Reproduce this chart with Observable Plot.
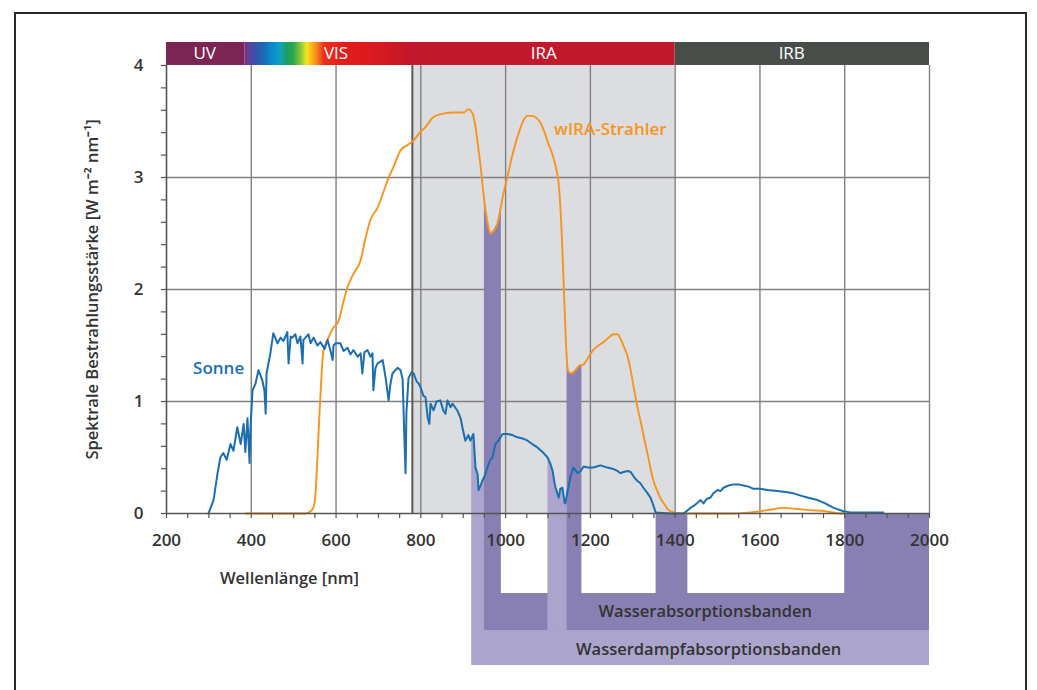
<!DOCTYPE html>
<html><head><meta charset="utf-8">
<script src="https://cdn.jsdelivr.net/npm/d3@7"></script>
<script src="https://cdn.jsdelivr.net/npm/@observablehq/plot@0.6"></script>
<style>
html,body{margin:0;padding:0;background:#fff;width:1037px;height:690px;overflow:hidden;}
#frame{position:absolute;left:14px;top:12px;width:1013px;height:720px;border:2px solid #2a2a2a;box-sizing:border-box;}
#chart{position:absolute;left:0;top:0;}
</style></head><body>
<div id="frame"></div><div id="chart"></div>
<script>
// ---- Data ----
const xTicks = [200, 400, 600, 800, 1000, 1200, 1400, 1600, 1800, 2000];
const yTicks = [0, 1, 2, 3, 4];
const xMinorTicks = d3.range(200, 2001, 50);
const yMinorTicks = d3.range(0, 4.001, 0.2);

const regionNames = ["UV", "VIS", "IRA", "IRB"];
const regionStart = [200, 385, 780, 1400];
const regionEnd   = [385, 780, 1400, 2000];
const regionLabelAt = [290, 600, 1090, 1675];

// Sonne (solar spectrum)
const sunNm  = [299,311,320,327,334,342,351,358,367,375,382,386,391,396,398,403,410,417,426,431,434,436,445,452,462,469,476,485,488,493,497,504,509,516,521,523,528,535,540,547,556,563,573,580,587,592,594,599,610,618,627,634,641,651,658,662,667,674,681,686,688,693,698,710,717,724,728,733,745,752,757,761,764,766,771,778,783,790,795,799,806,811,816,820,823,830,837,846,853,858,863,870,875,886,894,898,905,912,917,924,929,934,936,941,945,950,957,964,969,976,983,993,1004,1016,1028,1040,1052,1063,1075,1087,1099,1106,1111,1115,1118,1122,1125,1129,1134,1139,1141,1146,1148,1153,1160,1170,1177,1184,1193,1207,1224,1240,1252,1264,1271,1278,1288,1295,1304,1311,1318,1325,1335,1342,1346,1354,1389,1420,1436,1448,1460,1467,1474,1483,1490,1500,1507,1514,1526,1538,1550,1561,1573,1585,1601,1618,1641,1665,1679,1696,1714,1736,1754,1774,1797,1813,1861,1891];
const sunVal = [0,0.12,0.35,0.50,0.54,0.48,0.62,0.56,0.77,0.62,0.80,0.55,0.85,0.45,0.75,1.10,1.16,1.28,1.19,1.10,0.89,1.25,1.43,1.61,1.52,1.57,1.54,1.62,1.34,1.58,1.57,1.60,1.52,1.58,1.34,1.55,1.57,1.60,1.52,1.57,1.50,1.53,1.47,1.55,1.45,1.37,1.50,1.52,1.52,1.45,1.48,1.42,1.46,1.40,1.43,1.25,1.44,1.46,1.40,1.43,1.10,1.30,1.34,1.37,1.21,1.01,1.15,1.25,1.30,1.28,1.20,0.70,0.36,0.90,1.21,1.26,1.25,1.18,1.16,1.13,1.05,1.04,0.86,0.80,0.98,0.92,1.00,1.01,0.92,0.89,1.01,0.95,0.98,0.92,0.85,0.77,0.65,0.70,0.65,0.71,0.41,0.35,0.21,0.25,0.29,0.33,0.41,0.48,0.50,0.62,0.65,0.71,0.71,0.70,0.68,0.67,0.65,0.62,0.59,0.55,0.50,0.44,0.38,0.28,0.23,0.18,0.14,0.22,0.23,0.10,0.09,0.20,0.23,0.33,0.41,0.36,0.38,0.42,0.41,0.41,0.43,0.41,0.40,0.38,0.36,0.37,0.38,0.37,0.32,0.29,0.27,0.23,0.18,0.14,0.10,0.01,0,0,0.05,0.08,0.12,0.09,0.13,0.14,0.18,0.21,0.20,0.23,0.25,0.26,0.26,0.25,0.24,0.22,0.22,0.21,0.20,0.19,0.18,0.16,0.14,0.12,0.09,0.05,0.02,0.01,0.01,0.01];

// wIRA-Strahler
const wiraNm  = [386,469,528,540,547,552,556,561,566,570,580,592,606,618,627,641,658,669,681,698,710,721,736,752,769,783,797,811,830,853,877,901,912,922,929,936,941,948,953,960,964,971,981,988,995,1004,1014,1023,1033,1042,1052,1063,1073,1082,1092,1101,1111,1118,1125,1129,1134,1139,1144,1148,1155,1165,1174,1184,1193,1207,1219,1231,1243,1255,1264,1271,1280,1288,1295,1302,1311,1318,1328,1335,1342,1349,1358,1365,1375,1382,1396,1413,1538,1578,1618,1656,1689,1719,1754,1790,1800];
const wiraVal = [0,0,0,0.02,0.06,0.2,0.5,0.9,1.25,1.45,1.55,1.65,1.72,1.90,2.02,2.14,2.26,2.45,2.62,2.73,2.85,2.97,3.10,3.24,3.29,3.33,3.40,3.45,3.54,3.57,3.58,3.58,3.61,3.57,3.45,3.25,3.10,2.85,2.70,2.55,2.50,2.52,2.59,2.72,2.86,3.00,3.17,3.30,3.42,3.51,3.55,3.55,3.53,3.49,3.40,3.30,3.20,3.10,2.95,2.75,2.35,1.85,1.40,1.27,1.25,1.28,1.32,1.33,1.38,1.46,1.50,1.53,1.57,1.60,1.60,1.56,1.48,1.40,1.28,1.13,0.95,0.83,0.65,0.53,0.40,0.29,0.20,0.14,0.08,0.04,0.01,0,0,0.01,0.03,0.05,0.04,0.03,0.02,0,0];

// Absorption bands (nm)
const vaporBandStart = [920, 1100];   // Wasserdampf, under the Sonne curve
const vaporBandEnd   = [950, 1145];
const waterBandStart = [950, 1145, 1355, 1800]; // Wasser
const waterBandEnd   = [990, 1180, 1430, 2000];
const bandLevels = [-0.714, -1.045, -1.357]; // cutout bottom, Wasser row bottom, Wasserdampf row bottom

const labels = {
  y: "Spektrale Bestrahlungsstärke [W m⁻² nm⁻¹]",
  x: "Wellenlänge [nm]",
  sun: "Sonne",
  wira: "wIRA-Strahler",
  water: "Wasserabsorptionsbanden",
  vapor: "Wasserdampfabsorptionsbanden"
};

// ---- Styles ----
const C = {
  blue: "#1b6fb0", orange: "#f7941d", grid: "#808080", axis: "#555",
  ira: "#dcdde0", dark: "#8880b2", light: "#aba5cd", text: "#333",
  uv: "#7c2453", iraBand: "#c1192b", irb: "#484d49"
};
const FW = 600;
const specStopsNm = [385, 393, 408, 428, 452, 470, 484, 500, 518, 532, 545, 558, 572, 620, 700, 780];
const specStopsCol = ["#7a2a72","#6b3d98","#3e4fa6","#1d68b4","#0b8dcf","#12a3c2","#1a9e62","#2ca84a","#8cc63f","#f6e61a","#fbb11a","#f47920","#e8321e","#e31d1c","#d71b22","#c1192b"];
const specColor = d3.scaleLinear().domain(specStopsNm).range(specStopsCol).interpolate(d3.interpolateRgb);

// ---- Derived tables ----
const sun = sunNm.map((x, i) => ({x, y: sunVal[i]}));
const wira = wiraNm.map((x, i) => ({x, y: wiraVal[i]}));
function interp(nm, val, x) {
  for (let i = 0; i < nm.length - 1; i++) {
    if (x >= nm[i] && x <= nm[i + 1]) {
      const t = (x - nm[i]) / (nm[i + 1] - nm[i]);
      return val[i] + t * (val[i + 1] - val[i]);
    }
  }
  return 0;
}
function clipSeries(nm, val, a, b, band) {
  const pts = [{x: a, y: interp(nm, val, a), band}];
  nm.forEach((x, i) => { if (x > a && x < b) pts.push({x, y: val[i], band}); });
  pts.push({x: b, y: interp(nm, val, b), band});
  return pts;
}
const vaporAreas = vaporBandStart.flatMap((a, i) => clipSeries(sunNm, sunVal, a, vaporBandEnd[i], i));
const waterAreas = waterBandStart.slice(0, 2).flatMap((a, i) => clipSeries(wiraNm, wiraVal, a, waterBandEnd[i], i));

const [cutBottom, waterBottom, vaporBottom] = bandLevels;
const blocks = [
  {x1: vaporBandStart[0], x2: 2000, y1: vaporBottom, y2: 0, fill: C.light},
  {x1: waterBandStart[0], x2: 2000, y1: waterBottom, y2: 0, fill: C.dark},
  {x1: vaporBandStart[1], x2: vaporBandEnd[1], y1: waterBottom, y2: 0, fill: C.light},
  ...waterBandEnd.slice(0, 3).map((e, i) => ({x1: e, x2: i === 0 ? vaporBandStart[1] : waterBandStart[i + 1], y1: cutBottom, y2: 0, fill: "#fff"}))
];

const topBands = regionNames.map((n, i) => ({name: n, x1: regionStart[i], x2: regionEnd[i], at: regionLabelAt[i]}));
const topFill = {UV: C.uv, IRA: C.iraBand, IRB: C.irb};
const specSteps = d3.range(regionStart[1], regionEnd[1], 2).map(x => ({x1: x, x2: Math.min(x + 5, regionEnd[1]), fill: specColor(x + 1)}));

const yMax = 4, yBandTop = 4.205;

const chart = Plot.plot({
  width: 1037, height: 690,
  marginLeft: 166, marginRight: 108, marginTop: 42, marginBottom: 25,
  x: {domain: [200, 2000], axis: null},
  y: {domain: [vaporBottom, yBandTop], axis: null},
  style: {fontFamily: "'Open Sans', sans-serif", background: "transparent", overflow: "visible"},
  marks: [
    Plot.rect([topBands[2]], {x1: "x1", x2: "x2", y1: 0, y2: yMax, fill: C.ira}),
    Plot.rect(blocks, {x1: "x1", x2: "x2", y1: "y1", y2: "y2", fill: "fill"}),
    Plot.ruleY(yTicks.slice(1, 4), {x1: 200, x2: 2000, stroke: C.grid, strokeWidth: 1.4}),
    Plot.ruleX(xTicks.slice(1), {y1: 0, y2: yMax, stroke: C.grid, strokeWidth: 1.4}),
    Plot.ruleX([regionStart[2]], {y1: 0, y2: yMax, stroke: "#5a5a5a", strokeWidth: 2}),
    Plot.areaY(vaporAreas, {x: "x", y: "y", z: "band", fill: C.light}),
    Plot.areaY(waterAreas, {x: "x", y: "y", z: "band", fill: C.dark}),
    Plot.line(wira, {x: "x", y: "y", stroke: C.orange, strokeWidth: 1.9, curve: "monotone-x"}),
    Plot.line(sun, {x: "x", y: "y", stroke: C.blue, strokeWidth: 2, strokeLinejoin: "round"}),
    // axes
    Plot.ruleY([0], {x1: 200, x2: 2000, stroke: C.axis, strokeWidth: 1.6}),
    Plot.ruleX([200], {y1: 0, y2: yMax, stroke: C.axis, strokeWidth: 1.6}),
    Plot.ruleX(xMinorTicks, {y1: 0, y2: -0.045, stroke: C.axis, strokeWidth: 1.2}),
    Plot.ruleY(yMinorTicks, {x1: 200, x2: 188, stroke: C.axis, strokeWidth: 1.2}),
    Plot.text(xTicks, {x: d => d, y: 0, dy: 27, text: d => String(d), fontSize: 17, fontWeight: FW, fill: C.text}),
    Plot.text(yTicks, {x: 200, y: d => d, dx: -28, text: d => String(d), fontSize: 17, fontWeight: FW, fill: C.text}),
    Plot.text([labels.y], {x: 200, y: 2, dx: -74, rotate: -90, text: d => d, fontSize: 16.5, fontWeight: FW, fill: C.text}),
    Plot.text([labels.x], {x: 490, y: 0, dy: 65, text: d => d, fontSize: 16.5, fontWeight: FW, fill: C.text}),
    // top spectral band
    Plot.rect(topBands.filter(d => topFill[d.name]), {x1: "x1", x2: "x2", y1: yMax, y2: yBandTop, fill: d => topFill[d.name]}),
    Plot.rect(specSteps, {x1: "x1", x2: "x2", y1: yMax, y2: yBandTop, fill: "fill"}),
    Plot.text(topBands, {x: "at", y: (yMax + yBandTop) / 2, text: "name", fill: "#fff", fontSize: 17}),
    // curve labels
    Plot.text([labels.sun], {x: 323, y: 1.29, text: d => d, fill: C.blue, fontSize: 17, fontWeight: FW}),
    Plot.text([labels.wira], {x: 1247, y: 3.43, text: d => d, fill: C.orange, fontSize: 17, fontWeight: FW}),
    Plot.text([labels.water], {x: 1471, y: -0.875, text: d => d, fill: C.text, fontSize: 16.5, fontWeight: FW}),
    Plot.text([labels.vapor], {x: 1479, y: -1.214, text: d => d, fill: C.text, fontSize: 16.5, fontWeight: FW})
  ]
});
document.getElementById("chart").appendChild(chart);
</script>
</body></html>
